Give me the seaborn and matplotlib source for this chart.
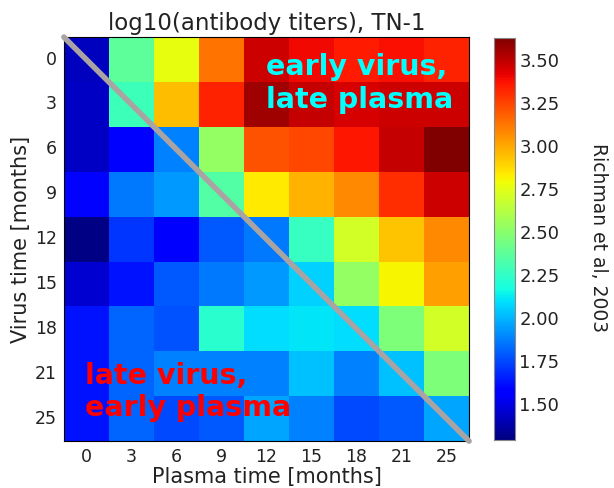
import numpy as np
import pandas as pd
import matplotlib
matplotlib.use('Agg')
import matplotlib.pyplot as plt
import seaborn as sns

# months for both axes
virus_times = [0, 3, 6, 9, 12, 15, 18, 21, 25]
plasma_times = [0, 3, 6, 9, 12, 15, 18, 21, 25]

# log10 titers, one list per virus time (rows)
row_v0 = [1.42, 2.37, 2.77, 3.13, 3.47, 3.40, 3.35, 3.38, 3.33]
row_v3 = [1.43, 2.28, 2.95, 3.33, 3.56, 3.49, 3.45, 3.47, 3.47]
row_v6 = [1.43, 1.58, 1.88, 2.53, 3.21, 3.24, 3.36, 3.49, 3.63]
row_v9 = [1.59, 1.86, 1.93, 2.35, 2.84, 2.98, 3.08, 3.31, 3.47]
row_v12 = [1.30, 1.71, 1.58, 1.79, 1.86, 2.26, 2.70, 2.93, 3.08]
row_v15 = [1.46, 1.62, 1.79, 1.86, 1.93, 2.06, 2.53, 2.81, 3.02]
row_v18 = [1.62, 1.82, 1.77, 2.23, 2.09, 2.11, 2.09, 2.46, 2.70]
row_v21 = [1.62, 1.82, 1.88, 1.88, 1.88, 2.03, 1.88, 2.03, 2.46]
row_v25 = [1.62, 1.82, 1.75, 1.79, 1.96, 1.88, 1.75, 1.79, 1.96]

titers = pd.DataFrame(
    [row_v0, row_v3, row_v6, row_v9, row_v12, row_v15, row_v18, row_v21, row_v25],
    index=virus_times, columns=plasma_times)

sns.set_style('white')
plt.rcParams['font.family'] = ['DejaVu Sans']

fig = plt.figure(figsize=(6.14, 4.88), dpi=100)
ax = fig.add_axes([0.104, 0.096, 0.660, 0.828])
cax = fig.add_axes([0.805, 0.098, 0.034, 0.825])

sns.heatmap(titers, ax=ax, cbar_ax=cax, cmap='jet', vmin=1.29, vmax=3.63,
            square=False, linewidths=0)

# diagonal: same time for virus and plasma
ax.plot([0, len(plasma_times)], [0, len(virus_times)], color='#aaa3a3',
        lw=4, solid_capstyle='round', clip_on=False, zorder=5)

ax.text(4.5, 1.03, 'early virus,\nlate plasma', color='cyan', fontsize=20.5,
        fontweight='bold', ha='left', va='center', linespacing=1.2)
ax.text(0.47, 7.9, 'late virus,\nearly plasma', color='red', fontsize=20.5,
        fontweight='bold', ha='left', va='center', linespacing=1.2)

ax.set_title('log10(antibody titers), TN-1', fontsize=16.5, color='#222222',
             pad=5)
ax.set_xlabel('Plasma time [months]', fontsize=15, color='#222222', labelpad=1)
ax.set_ylabel('Virus time [months]', fontsize=15, color='#222222', labelpad=3)
ax.tick_params(direction='in', length=4, labelsize=12.5, labelcolor='#222222',
               top=True, right=True, pad=5)
ax.set_yticklabels(virus_times, rotation=0)
ax.set_xticklabels(plasma_times, rotation=0)
for side in ax.spines.values():
    side.set_visible(True)
    side.set_color('black')

cax.set_yticks([1.5, 1.75, 2.0, 2.25, 2.5, 2.75, 3.0, 3.25, 3.5])
cax.set_yticklabels(['1.50', '1.75', '2.00', '2.25', '2.50', '2.75',
                     '3.00', '3.25', '3.50'])
cax.tick_params(direction='in', length=4, labelsize=13, labelcolor='#222222',
                pad=3)
for side in cax.spines.values():
    side.set_visible(True)
    side.set_color('#888888')

fig.text(0.975, 0.514, 'Richman et al, 2003', rotation=-90, fontsize=13.5,
         ha='center', va='center', color='#222222')

fig.savefig('out.png', dpi=100)
